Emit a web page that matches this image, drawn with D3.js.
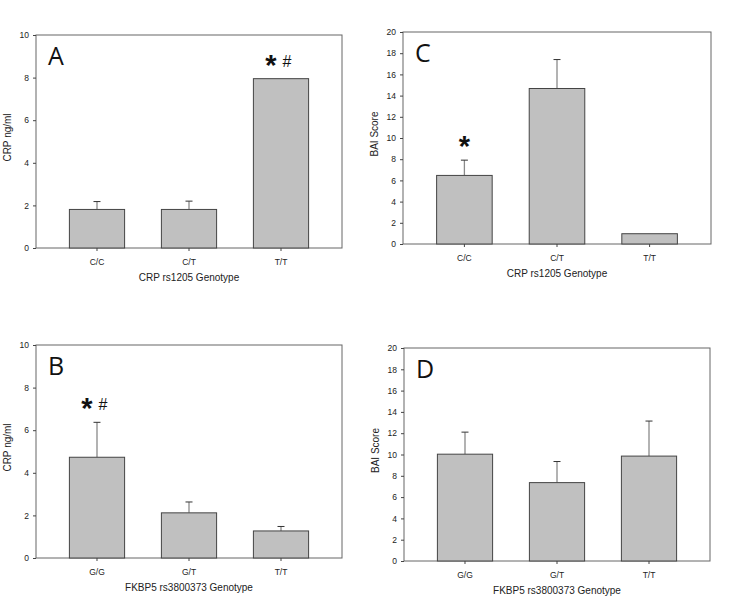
<!DOCTYPE html>
<html lang="en">
<head>
    <meta charset="UTF-8">
    <title>CRP and BAI by Genotype</title>
    <script src="https://d3js.org/d3.v7.min.js"></script>
    <style>
        body {
            margin: 0;
            background: #fff;
            font-family: "Liberation Sans", Arial, sans-serif;
        }
        .axis text {
            font-size: 8.5px;
            fill: #222;
        }
        .axis path, .axis line {
            stroke: #444;
        }
    </style>
</head>
<body>
    <svg id="chart" width="738" height="598"></svg>

    <script>
        // Données
        const crpGenotypes = ["C/C", "C/T", "T/T"];
        const fkbpGenotypes = ["G/G", "G/T", "T/T"];

        const crpMeanA = [1.81, 1.81, 7.95];     // CRP ng/ml par génotype CRP
        const crpSemA = [0.37, 0.39, 0];
        const crpMeanB = [4.73, 2.12, 1.27];     // CRP ng/ml par génotype FKBP5
        const crpSemB = [1.64, 0.51, 0.21];
        const baiMeanC = [6.47, 14.67, 0.97];    // BAI par génotype CRP
        const baiSemC = [1.44, 2.73, 0];
        const baiMeanD = [10.03, 7.36, 9.85];    // BAI par génotype FKBP5
        const baiSemD = [2.07, 1.98, 3.29];

        const crpTicks = [0, 2, 4, 6, 8, 10];
        const baiTicks = [0, 2, 4, 6, 8, 10, 12, 14, 16, 18, 20];

        // Marques de significativité : [astérisque, dièse]
        const marksA = [[false, false], [false, false], [true, true]];
        const marksB = [[true, true], [false, false], [false, false]];
        const marksC = [[true, false], [false, false], [false, false]];
        const marksD = [[false, false], [false, false], [false, false]];

        // Panneaux (position dans la page)
        const panels = [
            { letter: "A", x0: 36, x1: 342, y0: 35, y1: 248, cats: crpGenotypes, mean: crpMeanA, sem: crpSemA,
              ticks: crpTicks, ymax: 10, yTitle: "CRP ng/ml", xTitle: "CRP rs1205 Genotype", marks: marksA },
            { letter: "C", x0: 403, x1: 711, y0: 32, y1: 244, cats: crpGenotypes, mean: baiMeanC, sem: baiSemC,
              ticks: baiTicks, ymax: 20, yTitle: "BAI Score", xTitle: "CRP rs1205 Genotype", marks: marksC },
            { letter: "B", x0: 36, x1: 342, y0: 345, y1: 558, cats: fkbpGenotypes, mean: crpMeanB, sem: crpSemB,
              ticks: crpTicks, ymax: 10, yTitle: "CRP ng/ml", xTitle: "FKBP5 rs3800373 Genotype", marks: marksB },
            { letter: "D", x0: 404, x1: 710, y0: 348, y1: 561, cats: fkbpGenotypes, mean: baiMeanD, sem: baiSemD,
              ticks: baiTicks, ymax: 20, yTitle: "BAI Score", xTitle: "FKBP5 rs3800373 Genotype", marks: marksD }
        ];

        const svg = d3.select("#chart");

        panels.forEach(p => {
            const w = p.x1 - p.x0;
            const h = p.y1 - p.y0;
            const g = svg.append("g").attr("transform", `translate(${p.x0},${p.y0})`);

            const data = p.cats.map((c, i) => ({
                cat: c, mean: p.mean[i], sem: p.sem[i], star: p.marks[i][0], hash: p.marks[i][1]
            }));

            const x = d3.scaleBand()
                .domain(p.cats)
                .range([0, w])
                .paddingInner(0.4)
                .paddingOuter(0.363);

            const y = d3.scaleLinear()
                .domain([0, p.ymax])
                .range([h, 0]);

            const cx = d => x(d.cat) + x.bandwidth() / 2;

            // Cadre
            g.append("rect")
                .attr("width", w)
                .attr("height", h)
                .attr("fill", "none")
                .attr("stroke", "#666")
                .attr("stroke-width", 1);

            // Barres d'erreur (partie haute seulement)
            const errs = g.selectAll(".err")
                .data(data.filter(d => d.sem > 0))
                .join("g")
                .attr("class", "err");

            errs.append("line")
                .attr("x1", cx)
                .attr("x2", cx)
                .attr("y1", d => y(d.mean))
                .attr("y2", d => y(d.mean + d.sem))
                .attr("stroke", "#8a8a8a")
                .attr("stroke-width", 1.3);

            errs.append("line")
                .attr("x1", d => cx(d) - 3.5)
                .attr("x2", d => cx(d) + 3.5)
                .attr("y1", d => y(d.mean + d.sem))
                .attr("y2", d => y(d.mean + d.sem))
                .attr("stroke", "#333")
                .attr("stroke-width", 1);

            // Barres
            g.selectAll(".bar")
                .data(data)
                .join("rect")
                .attr("class", "bar")
                .attr("x", d => x(d.cat))
                .attr("y", d => y(d.mean))
                .attr("width", x.bandwidth())
                .attr("height", d => h - y(d.mean))
                .attr("fill", "#c0c0c0")
                .attr("stroke", "#444")
                .attr("stroke-width", 1);

            // Axes
            g.append("g")
                .attr("class", "axis")
                .call(d3.axisLeft(y).tickValues(p.ticks).tickSize(3).tickPadding(4).tickSizeOuter(0))
                .call(a => a.select(".domain").remove());

            g.append("g")
                .attr("class", "axis")
                .attr("transform", `translate(0,${h})`)
                .call(d3.axisBottom(x).tickSize(3).tickPadding(8).tickSizeOuter(0))
                .call(a => a.select(".domain").remove());

            // Titres des axes
            g.append("text")
                .attr("transform", "rotate(-90)")
                .attr("x", -h / 2 + 4)
                .attr("y", -25)
                .attr("text-anchor", "middle")
                .attr("font-size", 10)
                .attr("fill", "#222")
                .text(p.yTitle);

            g.append("text")
                .attr("x", w / 2)
                .attr("y", h + 33)
                .attr("text-anchor", "middle")
                .attr("font-size", 10)
                .attr("fill", "#222")
                .text(p.xTitle);

            // Lettre du panneau
            g.append("text")
                .attr("x", 12)
                .attr("y", 30)
                .attr("font-family", "'Open Sans', sans-serif")
                .attr("font-size", 25)
                .attr("fill", "#111")
                .text(p.letter);

            // Significativité
            const top = d => y(d.mean + d.sem);

            g.selectAll(".star")
                .data(data.filter(d => d.star))
                .join("text")
                .attr("class", "star")
                .attr("x", d => cx(d) + (d.hash ? -10 : 0))
                .attr("y", d => top(d) - 4)
                .attr("text-anchor", "middle")
                .attr("font-family", "'Liberation Sans', sans-serif")
                .attr("font-weight", "bold")
                .attr("font-size", 29)
                .attr("fill", "#111")
                .text("*");

            g.selectAll(".hash")
                .data(data.filter(d => d.hash))
                .join("text")
                .attr("class", "hash")
                .attr("x", d => cx(d) + 6)
                .attr("y", d => top(d) - 12)
                .attr("text-anchor", "middle")
                .attr("font-family", "'Liberation Sans', sans-serif")
                .attr("font-size", 16)
                .attr("fill", "#111")
                .text("#");
        });
    </script>
</body>
</html>
